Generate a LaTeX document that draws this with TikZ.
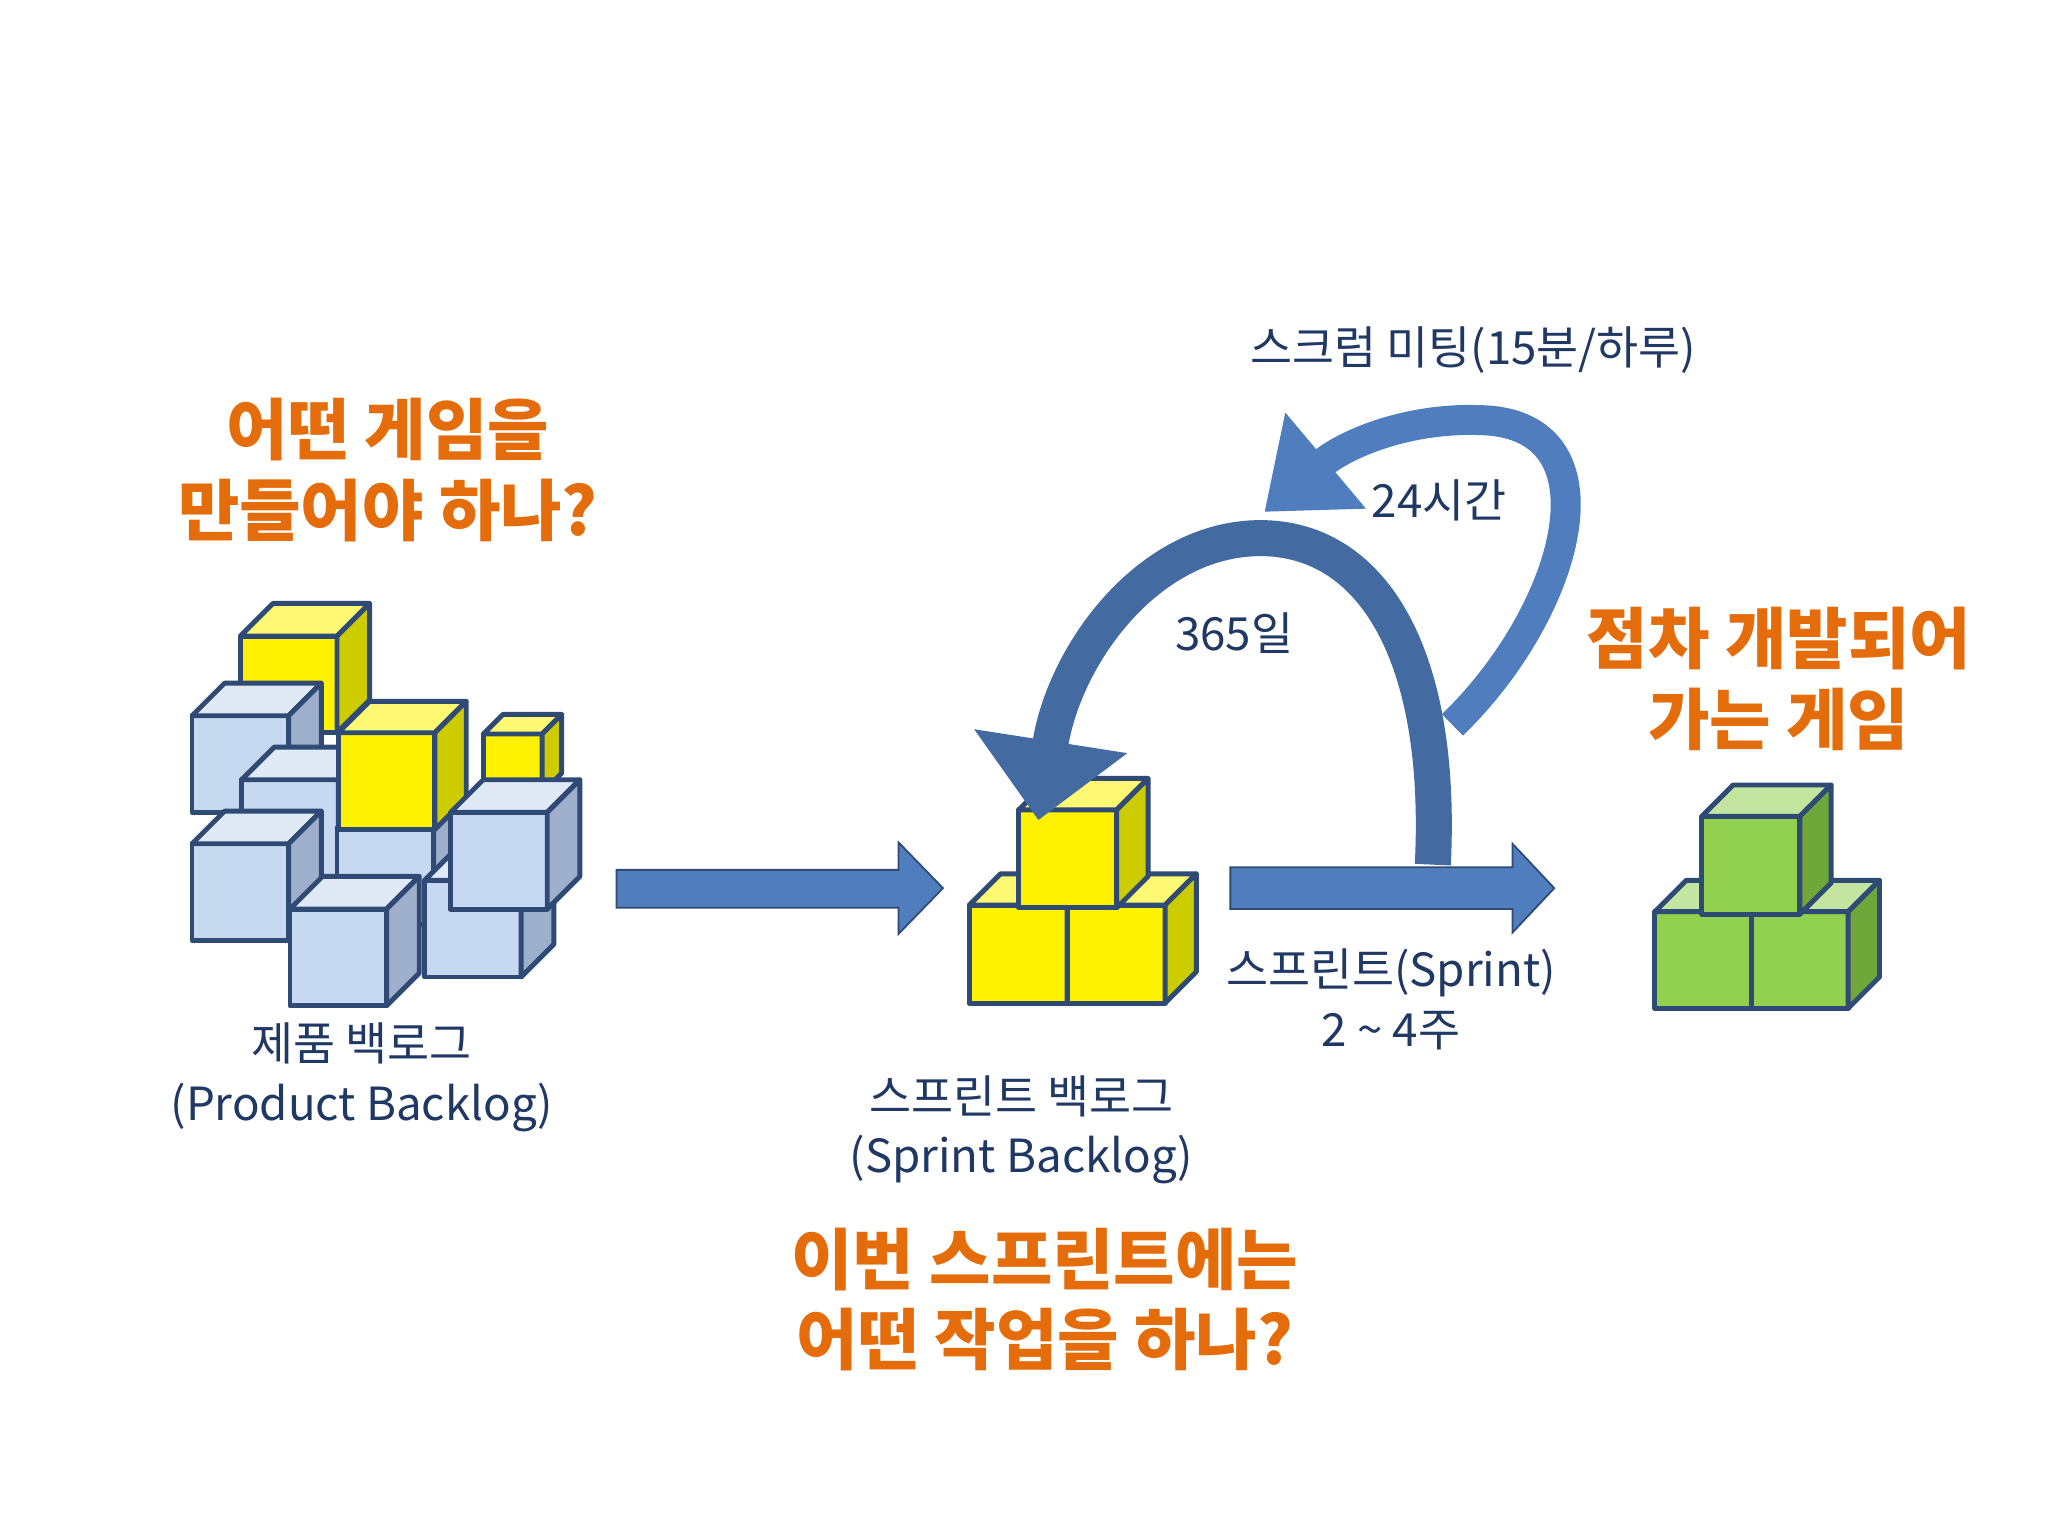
\documentclass[tikz,border=0pt]{standalone}
\usepackage{fontspec}
\setmainfont{Noto Sans CJK KR}
\usepackage{tikz}
\usetikzlibrary{arrows.meta}

\definecolor{edgeblue}{HTML}{2F4A75}
\definecolor{arrowblue}{HTML}{4F7DBD}
\definecolor{textblue}{HTML}{1F3864}
\definecolor{orangetxt}{HTML}{E46C0A}
\definecolor{pbfront}{HTML}{C6D9F1}
\definecolor{pbside}{HTML}{9DAFCB}
\definecolor{ylside}{HTML}{CCCC00}
\definecolor{grfront}{HTML}{92D050}
\definecolor{grside}{HTML}{6FA83A}

% cube: x, y (top-left of front face), size, depth, front colour, side colour
\newcommand{\drawcube}[6]{%
  \filldraw[cubeline, fill=#5] (#1,#2) rectangle ++(#3,#3);
  \filldraw[cubeline, fill=#5!55!white] (#1,#2) -- ++(#4,-#4) -- ++(#3,0) -- ++(-#4,#4) -- cycle;
  \filldraw[cubeline, fill=#6] (#1+#3,#2) -- ++(#4,-#4) -- ++(0,#3) -- ++(-#4,#4) -- cycle;
}

\begin{document}
\begin{tikzpicture}[
    x=0.01306cm, y=-0.01306cm,
    cubeline/.style={draw=edgeblue, line width=1.4pt, line join=round},
    label/.style={align=center, text=textblue, font=\fontsize{13}{17}\selectfont},
    question/.style={align=center, text=orangetxt, font=\fontsize{19}{23}\selectfont\bfseries},
    blockarrow/.style={draw=edgeblue, line width=0.5pt, fill=arrowblue},
    curvedarrow/.style={arrowblue, line width=0.36cm, -{Triangle[width=1.5cm,length=0.8cm]}}
]
\useasboundingbox[fill=white] (0,0) rectangle (1568,1176);

% product backlog
\drawcube{184}{487}{74}{25}{yellow}{ylside}
\drawcube{147}{548}{74}{25}{pbfront}{pbside}
\drawcube{370}{562}{45}{15}{yellow}{ylside}
\drawcube{185}{597}{74}{25}{pbfront}{pbside}
\drawcube{258}{634}{74}{25}{pbfront}{pbside}
\drawcube{259}{561}{74}{24}{yellow}{ylside}
\drawcube{325}{674}{74}{25}{pbfront}{pbside}
\drawcube{345}{622}{74}{25}{pbfront}{pbside}
\drawcube{147}{646}{74}{25}{pbfront}{pbside}
\drawcube{222}{696}{74}{25}{pbfront}{pbside}

% sprint backlog
\drawcube{742}{693}{75}{24}{yellow}{ylside}
\drawcube{817}{693}{75}{24}{yellow}{ylside}
\drawcube{780}{620}{75}{24}{yellow}{ylside}

% game
\drawcube{1267}{698}{74}{24}{grfront}{grside}
\drawcube{1341}{698}{74}{24}{grfront}{grside}
\drawcube{1303}{625}{75}{24}{grfront}{grside}

% texts
\node[question] (q1) at (297,360) {어떤 게임을\\만들어야 하나?};
\node[label] (pb) at (277,825) {제품 백로그\\(Product Backlog)};
\node[label] (sb) at (782,865) {스프린트 백로그\\(Sprint Backlog)};
\node[question] (q2) at (800,995) {이번 스프린트에는\\어떤 작업을 하나?};
\node[label] (meet) at (1128,268) {스크럼 미팅(15분/하루)};
\node[label] (day) at (1102,383) {24시간};
\node[label] (year) at (945,485) {365일};
\node[question] (game) at (1362,520) {점차 개발되어\\가는 게임};
\node[label] (sprint) at (1065,765) {스프린트(Sprint)\\2 \textasciitilde{} 4주};

% straight arrows
\filldraw[blockarrow] (472,666) -- (688,666) -- (688,645) -- (722,680) -- (688,715) -- (688,695) -- (472,695) -- cycle;
\filldraw[blockarrow] (942,664) -- (1158,664) -- (1158,646) -- (1190,680) -- (1158,714) -- (1158,696) -- (942,696) -- cycle;

% curved arrows
\coordinate (arcstart) at (1097,662);
\coordinate (arctop) at (965,412);
\coordinate (arcend) at (795,628);
\draw[curvedarrow, arrowblue!85!black] (arcstart) .. controls (1105,500) and (1050,412) .. (arctop)
  .. controls (880,412) and (815,500) .. (arcend);
\coordinate (loopstart) at (1112,555);
\coordinate (loopend) at (968,392);
\draw[curvedarrow, line width=0.3cm, -{Triangle[width=1.2cm,length=0.8cm]}] (loopstart) .. controls (1200,470) and (1240,330) .. (1140,322)
  .. controls (1080,318) and (1030,340) .. (loopend);
\end{tikzpicture}
\end{document}
